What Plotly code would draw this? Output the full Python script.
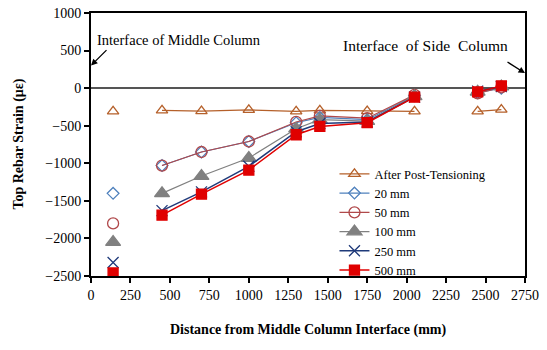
import plotly.graph_objects as go

# Distance from the middle column interface (mm)
distance = [140, 450, 700, 1000, 1300, 1450, 1750, 2050, 2450, 2600]

# Top rebar strain readings (microstrain) per loading stage
after_pt = [-310, -295, -305, -290, -310, -295, -305, -310, -310, -285]
disp_20 = [-1400, -1030, -850, -710, -460, -390, -420, -100, -60, 0]
disp_50 = [-1800, -1030, -850, -710, -450, -370, -400, -90, -70, 10]
disp_100 = [-2050, -1400, -1170, -930, -540, -420, -440, -110, -50, 20]
disp_250 = [-2320, -1630, -1380, -1040, -580, -470, -450, -120, -40, 20]
disp_500 = [-2460, -1690, -1410, -1090, -620, -510, -460, -120, -50, 30]

series_names = ["After Post-Tensioning", "20 mm", "50 mm", "100 mm", "250 mm", "500 mm"]

# Gauges that are wired together into one continuous line
segments = [[0], [1, 2, 3, 4, 5, 6, 7], [8, 9]]


def with_gaps(xs, ys):
    gx, gy = [], []
    for k, seg in enumerate(segments):
        if k:
            gx.append(None)
            gy.append(None)
        gx += [xs[i] for i in seg]
        gy += [ys[i] for i in seg]
    return gx, gy


styles = [
    dict(color="#B5602A", symbol="triangle-up-open", size=10, lw=1.2, fill=None),
    dict(color="#4F81BD", symbol="diamond-open", size=9, lw=1.2, fill=None),
    dict(color="#B0484A", symbol="circle-open", size=11, lw=1.2, fill=None),
    dict(color="#808080", symbol="triangle-up", size=13, lw=1.2, fill="#808080"),
    dict(color="#1F3A7A", symbol="x-thin", size=11, lw=1.5, fill=None),
    dict(color="#E00000", symbol="square", size=10, lw=1.5, fill="#E00000"),
]

fig = go.Figure()

for name, vals, st in zip(series_names,
                          [after_pt, disp_20, disp_50, disp_100, disp_250, disp_500],
                          styles):
    gx, gy = with_gaps(distance, vals)
    marker = dict(symbol=st["symbol"], size=st["size"], color=st["fill"] or st["color"],
                  line=dict(color=st["color"], width=1.3))
    fig.add_trace(go.Scatter(
        x=gx, y=gy, name=name, mode="lines+markers",
        line=dict(color=st["color"], width=st["lw"]),
        marker=marker, connectgaps=False,
    ))

serif = "Liberation Serif, Times New Roman, serif"
gap = "\u00a0\u00a0"

fig.update_layout(
    width=547, height=350,
    margin=dict(l=91, r=22, t=13, b=74, autoexpand=False),
    paper_bgcolor="white", plot_bgcolor="white",
    font=dict(family=serif, size=14, color="black"),
    showlegend=True,
    legend=dict(
        x=0.561, xanchor="left", y=-0.035, yanchor="bottom",
        bgcolor="rgba(0,0,0,0)", font=dict(family=serif, size=12.5),
        itemwidth=30, tracegroupgap=0,
    ),
    xaxis=dict(
        range=[0, 2750], dtick=250, tick0=0,
        showgrid=False, zeroline=False, automargin=False,
        showline=True, linecolor="black", linewidth=2, mirror=True,
        ticks="outside", ticklen=5, tickwidth=1.5, tickcolor="black",
        tickfont=dict(family=serif, size=14),
    ),
    yaxis=dict(
        range=[-2500, 1000], dtick=500, tick0=0,
        showgrid=False, zeroline=True, zerolinecolor="#555555", zerolinewidth=1.5,
        automargin=False,
        showline=True, linecolor="black", linewidth=2, mirror=True,
        ticks="outside", ticklen=5, tickwidth=1.5, tickcolor="black",
        tickfont=dict(family=serif, size=14),
    ),
    annotations=[
        # axis titles
        dict(x=0.5, y=-0.205, xref="paper", yref="paper", xanchor="center", yanchor="middle",
             text="<b>Distance from Middle Column Interface (mm)</b>", showarrow=False,
             font=dict(family=serif, size=14)),
        dict(x=-0.168, y=0.5, xref="paper", yref="paper", xanchor="center", yanchor="middle",
             text="<b>Top Rebar Strain (\u03bc\u03b5)</b>", showarrow=False, textangle=-90,
             font=dict(family=serif, size=14)),
        # column interface callouts
        dict(x=0, y=300, xref="x", yref="y", ax=17, ay=-17, axref="pixel", ayref="pixel",
             showarrow=True, arrowhead=2, arrowsize=1, arrowwidth=1.3, arrowcolor="black",
             text=""),
        dict(x=25, y=640, xref="x", yref="y", xanchor="left", yanchor="middle",
             text="Interface of Middle Column", showarrow=False,
             font=dict(family=serif, size=14.5)),
        dict(x=2750, y=200, xref="x", yref="y", ax=-19, ay=-12, axref="pixel", ayref="pixel",
             showarrow=True, arrowhead=2, arrowsize=1, arrowwidth=1.3, arrowcolor="black",
             text=""),
        dict(x=2655, y=572, xref="x", yref="y", xanchor="right", yanchor="middle",
             text="Interface" + gap + "of Side" + gap + "Column", showarrow=False,
             font=dict(family=serif, size=15.5)),
    ],
)

fig.write_html("out.html")
